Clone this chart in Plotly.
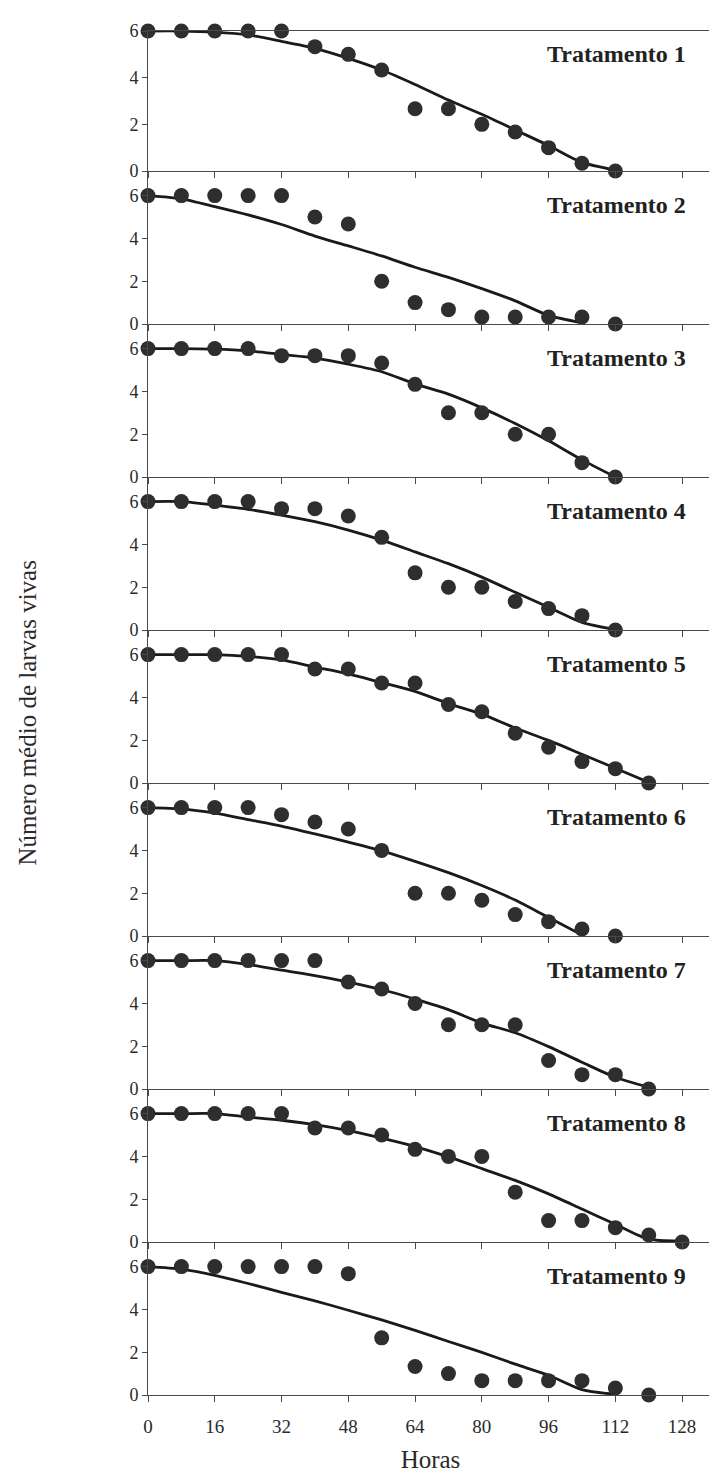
import plotly.graph_objects as go
from plotly.subplots import make_subplots

horas = [0, 8, 16, 24, 32, 40, 48, 56, 64, 72, 80, 88, 96, 104, 112, 120, 128]
x_ticks = [0, 16, 32, 48, 64, 80, 96, 112, 128]
y_ticks = [0, 2, 4, 6]
titulos = ["Tratamento 1", "Tratamento 2", "Tratamento 3", "Tratamento 4", "Tratamento 5",
           "Tratamento 6", "Tratamento 7", "Tratamento 8", "Tratamento 9"]

t1_obs = [6, 6, 6, 6, 6, 5.33, 5.0, 4.33, 2.67, 2.67, 2.0, 1.67, 1.0, 0.33, 0]
t1_fit = [6, 6, 5.95, 5.83, 5.56, 5.26, 4.83, 4.33, 3.71, 3.04, 2.43, 1.76, 1.09, 0.37, 0.04]
t2_obs = [6, 6, 6, 6, 6, 5.0, 4.67, 2.0, 1.0, 0.67, 0.33, 0.33, 0.33, 0.33, 0]
t2_fit = [6, 5.85, 5.49, 5.1, 4.65, 4.11, 3.65, 3.18, 2.65, 2.18, 1.65, 1.08, 0.4, 0.05]
t3_obs = [6, 6, 6, 6, 5.67, 5.67, 5.67, 5.33, 4.33, 3.0, 3.0, 2.0, 2.0, 0.67, 0]
t3_fit = [6, 6, 5.98, 5.9, 5.73, 5.56, 5.27, 4.92, 4.35, 3.87, 3.23, 2.5, 1.69, 0.8, 0.0]
t4_obs = [6, 6, 6, 6, 5.67, 5.67, 5.33, 4.33, 2.67, 2.0, 2.0, 1.33, 1.0, 0.67, 0]
t4_fit = [6, 6, 5.84, 5.64, 5.37, 5.06, 4.67, 4.2, 3.65, 3.1, 2.47, 1.76, 1.06, 0.36, 0.02]
t5_obs = [6, 6, 6, 6, 6, 5.33, 5.33, 4.67, 4.67, 3.67, 3.33, 2.33, 1.67, 1.0, 0.67, 0]
t5_fit = [6, 6, 6, 5.92, 5.75, 5.42, 5.1, 4.69, 4.28, 3.71, 3.22, 2.57, 1.99, 1.34, 0.69, 0.03]
t6_obs = [6, 6, 6, 6, 5.67, 5.33, 5.0, 4.0, 2.0, 2.0, 1.67, 1.0, 0.67, 0.33, 0]
t6_fit = [6, 5.94, 5.74, 5.44, 5.14, 4.77, 4.39, 3.98, 3.49, 2.96, 2.36, 1.68, 0.86, 0.05]
t7_obs = [6, 6, 6, 6, 6, 6, 5.0, 4.67, 4.0, 3.0, 3.0, 3.0, 1.33, 0.67, 0.67, 0]
t7_fit = [6, 6, 6, 5.82, 5.55, 5.3, 5.0, 4.65, 4.2, 3.71, 3.08, 2.63, 1.98, 1.25, 0.55, 0.08]
t8_obs = [6, 6, 6, 6, 6, 5.33, 5.33, 5.0, 4.33, 4.0, 4.0, 2.33, 1.0, 1.0, 0.67, 0.33, 0]
t8_fit = [6, 6, 6, 5.84, 5.69, 5.48, 5.2, 4.85, 4.46, 3.98, 3.43, 2.88, 2.25, 1.54, 0.83, 0.13, 0.05]
t9_obs = [6, 6, 6, 6, 6, 6, 5.67, 2.67, 1.33, 1.0, 0.67, 0.67, 0.67, 0.67, 0.33, 0]
t9_fit = [6, 5.88, 5.59, 5.21, 4.8, 4.4, 3.96, 3.51, 3.02, 2.5, 1.99, 1.44, 0.92, 0.25, 0.03]

observados = [t1_obs, t2_obs, t3_obs, t4_obs, t5_obs, t6_obs, t7_obs, t8_obs, t9_obs]
ajustados = [t1_fit, t2_fit, t3_fit, t4_fit, t5_fit, t6_fit, t7_fit, t8_fit, t9_fit]

FONT = "Liberation Serif"
AX = "#4a4a4a"
TXT = "#2a2a2a"

fig = make_subplots(rows=9, cols=1, shared_xaxes=True, vertical_spacing=0,
                    row_heights=[140] + [153] * 8)

for i in range(9):
    r = i + 1
    obs = observados[i]
    fit = ajustados[i]
    fig.add_trace(go.Scatter(x=horas[:len(fit)], y=fit, mode="lines",
                             line=dict(color="#1a1a1a", width=2.8, shape="spline", smoothing=0.7),
                             cliponaxis=False, showlegend=False), row=r, col=1)
    fig.add_trace(go.Scatter(x=horas[:len(obs)], y=obs, mode="markers",
                             marker=dict(size=15, color="#2e2e30", line=dict(width=0)),
                             cliponaxis=False, showlegend=False), row=r, col=1)
    ytop = 6 if i == 0 else 7.15
    fig.update_yaxes(range=[0, ytop], tickvals=y_ticks, ticks="outside", ticklen=5,
                     tickcolor=AX, showline=True, linecolor=AX, linewidth=1,
                     showgrid=False, zeroline=False, mirror=(i == 0), automargin=False,
                     tickfont=dict(family=FONT, size=18, color=TXT), row=r, col=1)
    fig.update_xaxes(range=[0, 135.4], tickvals=x_ticks, ticks="outside", ticklen=6,
                     tickcolor=AX, showline=True, linecolor=AX, linewidth=1,
                     showgrid=False, zeroline=False, mirror=(i == 0), automargin=False,
                     tickfont=dict(family=FONT, size=19, color=TXT), row=r, col=1)
    yt = 5.0 if i == 0 else 5.55
    fig.add_annotation(x=129.5, y=yt, xref=f"x{r if r > 1 else ''}", yref=f"y{r if r > 1 else ''}",
                       text=f"<b>{titulos[i]}</b>", showarrow=False, xanchor="right", yanchor="middle",
                       font=dict(family=FONT, size=24, color="#222222"))

fig.update_xaxes(showticklabels=True, ticklabelstandoff=8, row=9, col=1,
                 title=dict(text="Horas", font=dict(family=FONT, size=25, color=TXT), standoff=14))

fig.add_annotation(x=-0.215, y=0.5, xref="paper", yref="paper", text="Número médio de larvas vivas",
                   textangle=-90, showarrow=False, xanchor="center", yanchor="middle",
                   font=dict(family=FONT, size=25, color=TXT))

fig.update_layout(width=717, height=1470, margin=dict(l=140, r=12, t=23, b=83),
                  paper_bgcolor="white", plot_bgcolor="white")

fig.write_html("out.html")
